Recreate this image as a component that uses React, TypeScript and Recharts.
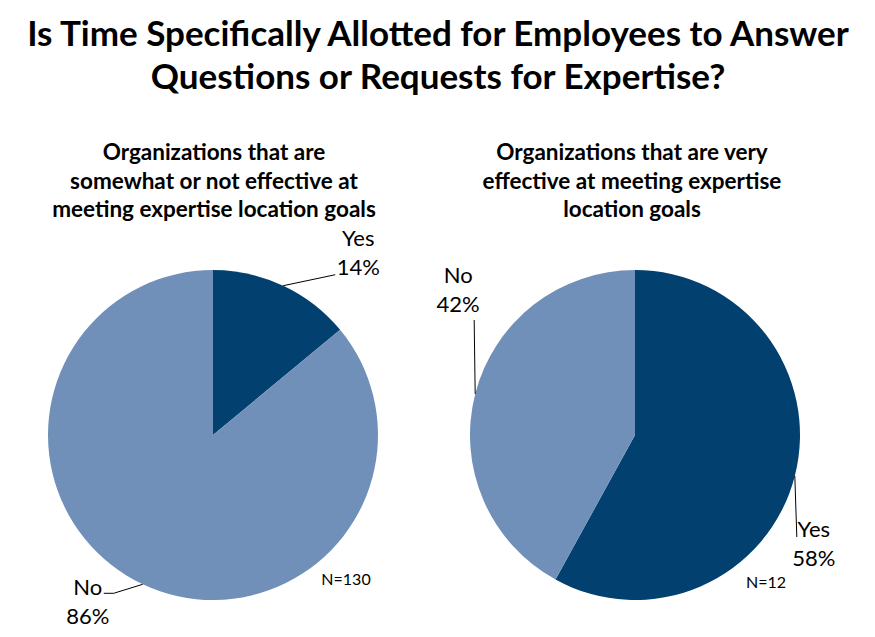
import { Cell, Pie, PieChart } from 'recharts'

const answers = ['Yes', 'No']
const somewhatEffective = [14, 86]
const veryEffective = [58, 42]
const sampleSizes = ['N=130', 'N=12']

const titleLines = ['Is Time Specifically Allotted for Employees to Answer', 'Questions or Requests for Expertise?']
const leftHeading = ['Organizations that are', 'somewhat or not effective at', 'meeting expertise location goals']
const rightHeading = ['Organizations that are very', 'effective at meeting expertise', 'location goals']

const COLORS: Record<string, string> = { Yes: '#02406f', No: '#7190b9' }
const FONT = 'Lato, "Open Sans", sans-serif'
const RADIAN = Math.PI / 180

type Placement = { leader: Array<[number, number]>; tx: number; ty: number }

// offsets from the point where each slice's mid-angle meets the rim
const leftPlacement: Record<string, Placement> = {
  Yes: { leader: [[52, -11]], tx: 75, ty: -40 },
  No: { leader: [[-29, 9], [-39, 9]], tx: -55, ty: 11 },
}
const rightPlacement: Record<string, Placement> = {
  Yes: { leader: [[2, 61]], tx: 19, ty: 61 },
  No: { leader: [[-1, -74]], tx: -17, ty: -111 },
}

function toRows(values: number[]) {
  return answers.map((name, i) => ({ name, value: values[i] }))
}

function makeLabel(placement: Record<string, Placement>) {
  return (props: any) => {
    const { cx, cy, midAngle, outerRadius, percent, name } = props
    const ex = cx + outerRadius * Math.cos(-midAngle * RADIAN)
    const ey = cy + outerRadius * Math.sin(-midAngle * RADIAN)
    const p = placement[name]
    const pts = [[0, 0], ...p.leader].map(([dx, dy]) => `${ex + dx},${ey + dy}`).join(' ')
    return (
      <g>
        <polyline points={pts} fill="none" stroke="#000" strokeWidth={1} />
        <text x={ex + p.tx} y={ey + p.ty} textAnchor="middle" fontFamily={FONT} fontSize={22} fill="#000">
          {name}
        </text>
        <text x={ex + p.tx} y={ey + p.ty + 29} textAnchor="middle" fontFamily={FONT} fontSize={22} fill="#000">
          {`${Math.round(percent * 100)}%`}
        </text>
      </g>
    )
  }
}

function Heading({ lines, x, y, size, step }: { lines: string[]; x: number; y: number; size: number; step: number }) {
  return (
    <>
      {lines.map((line, i) => (
        <text key={line} x={x} y={y + i * step} textAnchor="middle" fontFamily={FONT} fontWeight={700} fontSize={size} fill="#000">
          {line}
        </text>
      ))}
    </>
  )
}

export default function App() {
  return (
    <div style={{ position: 'absolute', left: 0, top: 0, width: 875, height: 637, background: '#fff' }}>
      <PieChart width={875} height={637} margin={{ top: 0, right: 0, bottom: 0, left: 0 }}>
        <Pie
          data={toRows(somewhatEffective)}
          dataKey="value"
          nameKey="name"
          cx={213}
          cy={435}
          outerRadius={165}
          startAngle={90}
          endAngle={-270}
          stroke="none"
          label={makeLabel(leftPlacement)}
          labelLine={false}
          isAnimationActive={false}
        >
          {answers.map((a) => (
            <Cell key={a} fill={COLORS[a]} />
          ))}
        </Pie>
        <Pie
          data={toRows(veryEffective)}
          dataKey="value"
          nameKey="name"
          cx={635}
          cy={435}
          outerRadius={165}
          startAngle={90}
          endAngle={-270}
          stroke="none"
          label={makeLabel(rightPlacement)}
          labelLine={false}
          isAnimationActive={false}
        >
          {answers.map((a) => (
            <Cell key={a} fill={COLORS[a]} />
          ))}
        </Pie>
      </PieChart>
      <svg width={875} height={637} style={{ position: 'absolute', left: 0, top: 0, pointerEvents: 'none' }}>
        <Heading lines={titleLines} x={438} y={46} size={35} step={43} />
        <Heading lines={leftHeading} x={214} y={160} size={22.5} step={28.5} />
        <Heading lines={rightHeading} x={632} y={160} size={22.5} step={28.5} />
        <text x={346} y={585} textAnchor="middle" fontFamily={FONT} fontSize={16} fill="#000">
          {sampleSizes[0]}
        </text>
        <text x={766} y={588} textAnchor="middle" fontFamily={FONT} fontSize={16} fill="#000">
          {sampleSizes[1]}
        </text>
      </svg>
    </div>
  )
}
